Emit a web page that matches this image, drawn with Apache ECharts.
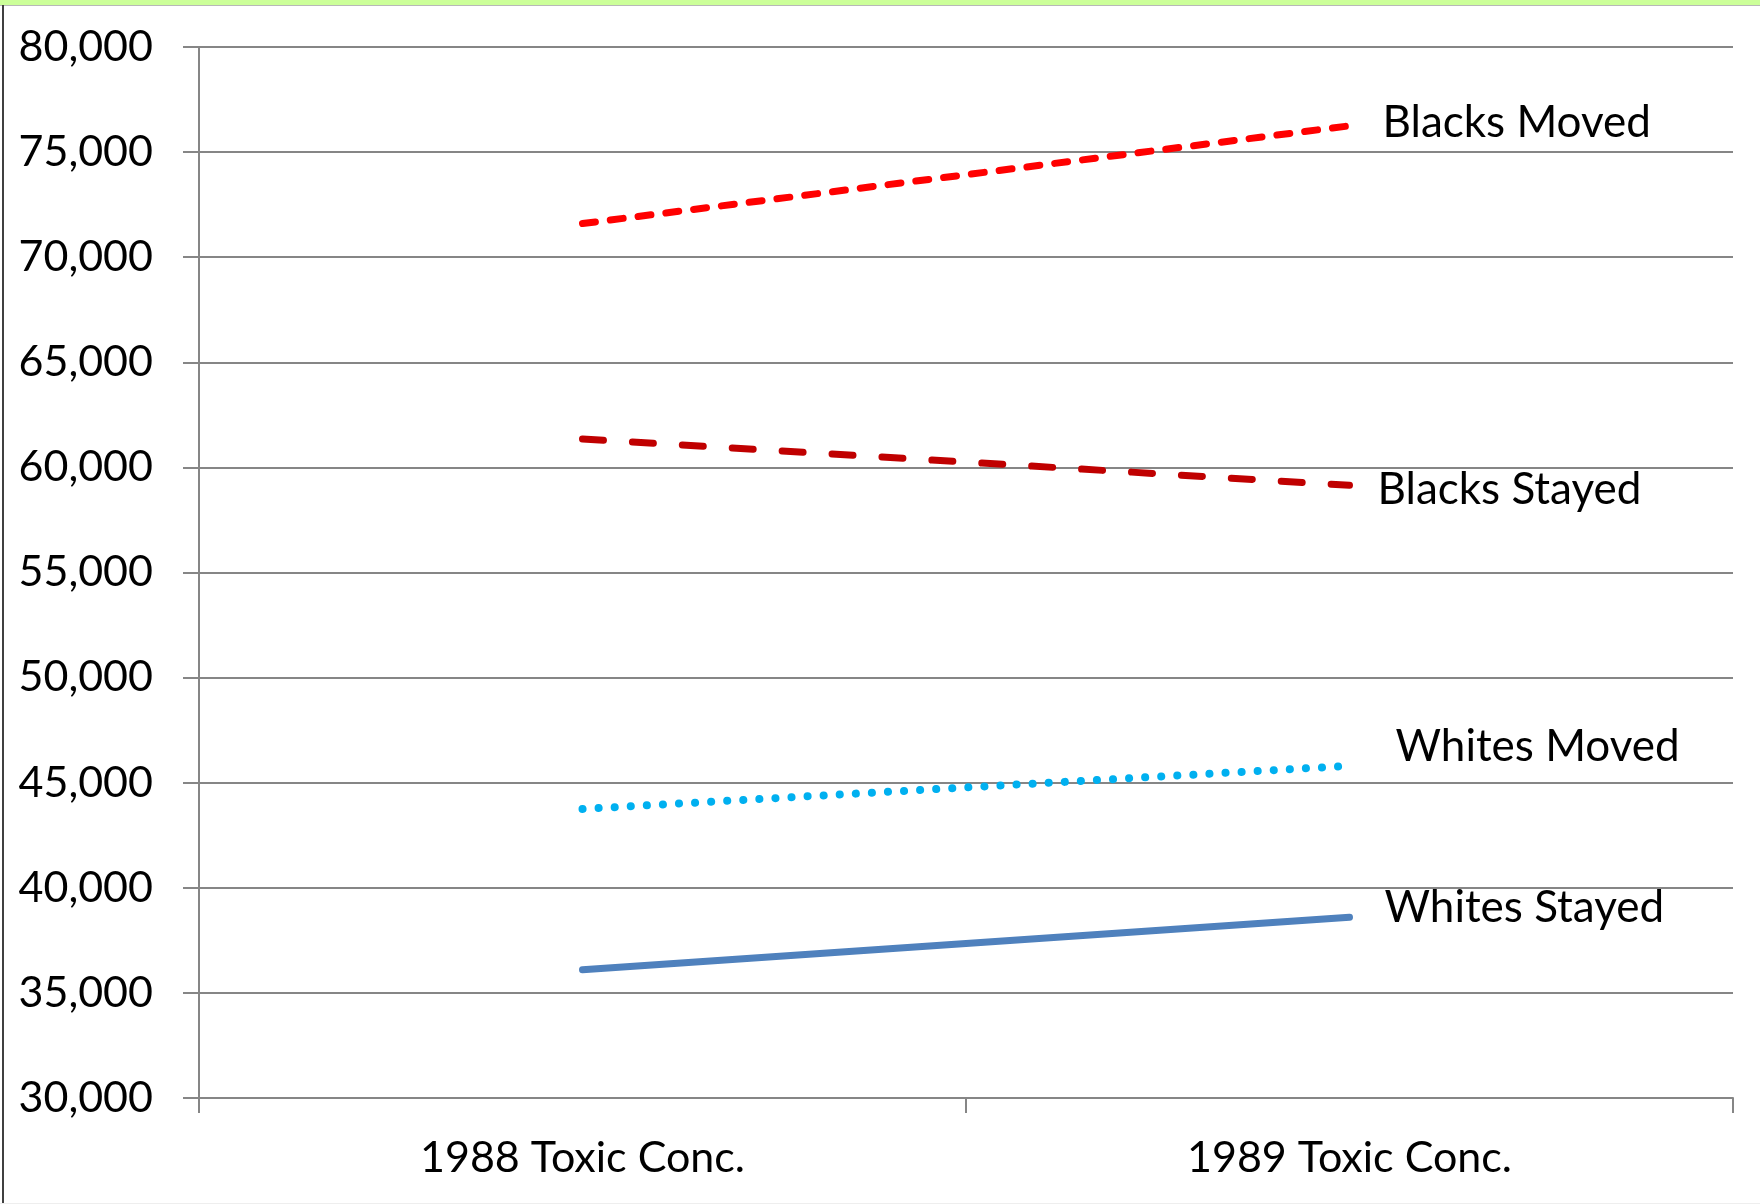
<!DOCTYPE html>
<html>
<head>
<meta charset="utf-8">
<script src="https://cdn.jsdelivr.net/npm/echarts@6/dist/echarts.min.js"></script>
<style>
  html, body { margin: 0; padding: 0; background: #ffffff; }
  #wrap { position: relative; width: 1760px; height: 1204px; overflow: hidden; background: #fff; }
  #topband { position: absolute; left: 0; top: 0; width: 1760px; height: 5px; background: #ccff99; border-bottom: 1px solid #b8b8b8; }
  #leftline { position: absolute; left: 2px; top: 5px; width: 2px; height: 1199px; background: #404040; }
  #bottomline { position: absolute; left: 0; top: 1203px; width: 1760px; height: 1px; background: #eeeeee; }
  #chart { position: absolute; left: 0; top: 0; width: 1760px; height: 1204px; }
</style>
</head>
<body>
<div id="wrap">
  <div id="chart"></div>
  <div id="topband"></div>
  <div id="leftline"></div>
  <div id="bottomline"></div>
</div>
<script>
const categories = ["1988 Toxic Conc.", "1989 Toxic Conc."];
const seriesNames = ["Blacks Moved", "Blacks Stayed", "Whites Moved", "Whites Stayed"];
const blacksMoved = [71600, 76250];
const blacksStayed = [61350, 59150];
const whitesMoved = [43750, 45800];
const whitesStayed = [36100, 38600];
const yMin = 30000, yMax = 80000, yStep = 5000;

const FONT = 'Lato';
const gridColor = '#868686';

function mkSeries(name, data, color, type, width, offset) {
  return {
    name: name,
    type: 'line',
    data: data,
    symbol: 'none',
    silent: true,
    lineStyle: { color: color, width: width, type: type, cap: 'round' },
    endLabel: {
      show: true,
      formatter: '{a}',
      color: '#000',
      fontFamily: FONT,
      fontSize: 44,
      distance: 0,
      offset: offset
    },
    z: 3
  };
}

const chart = echarts.init(document.getElementById('chart'), null, { renderer: 'canvas' });
chart.setOption({
  animation: false,
  backgroundColor: 'transparent',
  grid: { left: 199, right: 27, top: 47, bottom: 106, containLabel: false },
  xAxis: {
    type: 'category',
    data: categories,
    boundaryGap: true,
    axisLine: { show: true, lineStyle: { color: gridColor, width: 2 } },
    axisTick: { show: true, length: 15, lineStyle: { color: gridColor, width: 2 } },
    axisLabel: { color: '#000', fontFamily: FONT, fontSize: 43, margin: 39 },
    splitLine: { show: false }
  },
  yAxis: {
    type: 'value',
    min: yMin, max: yMax, interval: yStep,
    axisLine: { show: true, lineStyle: { color: gridColor, width: 2 } },
    axisTick: { show: true, length: 16, lineStyle: { color: gridColor, width: 2 } },
    axisLabel: {
      color: '#000', fontFamily: FONT, fontSize: 43, margin: 46,
      formatter: function (v) { return v.toLocaleString('en-US'); }
    },
    splitLine: { show: true, lineStyle: { color: gridColor, width: 2 } }
  },
  series: [
    mkSeries(seriesNames[0], blacksMoved, '#ff0000', [13, 15], 7, [33, -3]),
    mkSeries(seriesNames[1], blacksStayed, '#c00000', [21, 29], 7, [28, 5]),
    mkSeries(seriesNames[2], whitesMoved, '#00b0f0', [0.1, 16], 8, [46, -19]),
    mkSeries(seriesNames[3], whitesStayed, '#4f81bd', 'solid', 7, [35, -9])
  ]
});
</script>
</body>
</html>
